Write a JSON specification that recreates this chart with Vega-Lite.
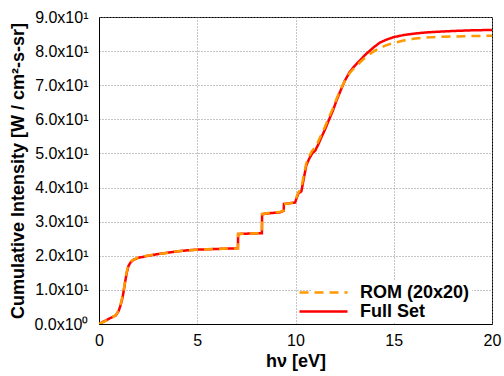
{
  "$schema": "https://vega.github.io/schema/vega-lite/v6.json",
  "width": 393,
  "height": 307,
  "autosize": {"type": "none"},
  "padding": {"left": 99, "top": 17, "right": 12, "bottom": 52},
  "background": "white",
  "config": {
    "view": {"stroke": "black", "strokeWidth": 1},
    "font": "Liberation Sans",
    "axis": {
      "domainColor": "black",
      "grid": true,
      "gridColor": "#8c8c8c",
      "gridDash": [1, 2],
      "gridWidth": 1,
      "ticks": false,
      "labelFont": "Liberation Sans",
      "labelFontSize": 16,
      "labelColor": "black",
      "titleFont": "Liberation Sans",
      "titleFontSize": 18,
      "titleFontWeight": "bold",
      "titleColor": "black"
    }
  },
  "data": {
    "values": [
      {"s": "Full Set", "x": 0, "y": 0},
      {"s": "Full Set", "x": 0.3, "y": 0.9},
      {"s": "Full Set", "x": 0.6, "y": 1.8},
      {"s": "Full Set", "x": 0.85, "y": 2.5},
      {"s": "Full Set", "x": 1.0, "y": 3.8},
      {"s": "Full Set", "x": 1.1, "y": 5.5},
      {"s": "Full Set", "x": 1.2, "y": 7.8},
      {"s": "Full Set", "x": 1.28, "y": 10.5},
      {"s": "Full Set", "x": 1.35, "y": 13.0},
      {"s": "Full Set", "x": 1.42, "y": 15.2},
      {"s": "Full Set", "x": 1.5, "y": 17.0},
      {"s": "Full Set", "x": 1.6, "y": 18.0},
      {"s": "Full Set", "x": 1.75, "y": 18.8},
      {"s": "Full Set", "x": 2.0, "y": 19.4},
      {"s": "Full Set", "x": 2.5, "y": 20.0},
      {"s": "Full Set", "x": 3.0, "y": 20.5},
      {"s": "Full Set", "x": 3.5, "y": 20.9},
      {"s": "Full Set", "x": 4.0, "y": 21.3},
      {"s": "Full Set", "x": 4.5, "y": 21.6},
      {"s": "Full Set", "x": 5.0, "y": 21.8},
      {"s": "Full Set", "x": 5.5, "y": 21.9},
      {"s": "Full Set", "x": 6.0, "y": 22.0},
      {"s": "Full Set", "x": 6.5, "y": 22.1},
      {"s": "Full Set", "x": 7.07, "y": 22.2},
      {"s": "Full Set", "x": 7.08, "y": 26.4},
      {"s": "Full Set", "x": 7.6, "y": 26.5},
      {"s": "Full Set", "x": 8.29, "y": 26.6},
      {"s": "Full Set", "x": 8.3, "y": 32.2},
      {"s": "Full Set", "x": 8.7, "y": 32.5},
      {"s": "Full Set", "x": 9.2, "y": 32.7},
      {"s": "Full Set", "x": 9.4, "y": 33.2},
      {"s": "Full Set", "x": 9.41, "y": 35.2},
      {"s": "Full Set", "x": 9.7, "y": 35.4},
      {"s": "Full Set", "x": 9.98, "y": 35.6},
      {"s": "Full Set", "x": 10.05, "y": 36.8},
      {"s": "Full Set", "x": 10.15, "y": 38.3},
      {"s": "Full Set", "x": 10.3, "y": 38.9},
      {"s": "Full Set", "x": 10.4, "y": 42.0},
      {"s": "Full Set", "x": 10.55, "y": 46.5},
      {"s": "Full Set", "x": 10.7, "y": 48.5},
      {"s": "Full Set", "x": 10.85, "y": 50.0},
      {"s": "Full Set", "x": 11.0, "y": 50.8},
      {"s": "Full Set", "x": 11.15, "y": 52.5},
      {"s": "Full Set", "x": 11.3, "y": 54.5},
      {"s": "Full Set", "x": 11.5, "y": 57.0},
      {"s": "Full Set", "x": 11.7, "y": 59.8},
      {"s": "Full Set", "x": 11.9, "y": 62.5},
      {"s": "Full Set", "x": 12.1, "y": 65.7},
      {"s": "Full Set", "x": 12.3, "y": 68.5},
      {"s": "Full Set", "x": 12.5, "y": 71.2},
      {"s": "Full Set", "x": 12.75, "y": 73.8},
      {"s": "Full Set", "x": 13.0, "y": 75.6},
      {"s": "Full Set", "x": 13.3, "y": 77.4},
      {"s": "Full Set", "x": 13.6, "y": 79.2},
      {"s": "Full Set", "x": 14.0, "y": 81.2},
      {"s": "Full Set", "x": 14.3, "y": 82.5},
      {"s": "Full Set", "x": 14.6, "y": 83.3},
      {"s": "Full Set", "x": 15.0, "y": 84.1},
      {"s": "Full Set", "x": 15.5, "y": 84.7},
      {"s": "Full Set", "x": 16.0, "y": 85.1},
      {"s": "Full Set", "x": 16.5, "y": 85.4},
      {"s": "Full Set", "x": 17.0, "y": 85.6},
      {"s": "Full Set", "x": 18.0, "y": 85.9},
      {"s": "Full Set", "x": 19.0, "y": 86.1},
      {"s": "Full Set", "x": 20.0, "y": 86.2},
      {"s": "ROM (20x20)", "x": 0, "y": 0},
      {"s": "ROM (20x20)", "x": 0.3, "y": 0.8},
      {"s": "ROM (20x20)", "x": 0.6, "y": 1.6},
      {"s": "ROM (20x20)", "x": 0.85, "y": 2.6},
      {"s": "ROM (20x20)", "x": 1.0, "y": 4.0},
      {"s": "ROM (20x20)", "x": 1.1, "y": 5.8},
      {"s": "ROM (20x20)", "x": 1.2, "y": 8.2},
      {"s": "ROM (20x20)", "x": 1.28, "y": 10.8},
      {"s": "ROM (20x20)", "x": 1.35, "y": 13.4},
      {"s": "ROM (20x20)", "x": 1.42, "y": 15.6},
      {"s": "ROM (20x20)", "x": 1.5, "y": 17.3},
      {"s": "ROM (20x20)", "x": 1.6, "y": 18.2},
      {"s": "ROM (20x20)", "x": 1.75, "y": 18.9},
      {"s": "ROM (20x20)", "x": 2.0, "y": 19.5},
      {"s": "ROM (20x20)", "x": 2.5, "y": 20.1},
      {"s": "ROM (20x20)", "x": 3.0, "y": 20.5},
      {"s": "ROM (20x20)", "x": 3.5, "y": 20.9},
      {"s": "ROM (20x20)", "x": 4.0, "y": 21.3},
      {"s": "ROM (20x20)", "x": 4.5, "y": 21.6},
      {"s": "ROM (20x20)", "x": 5.0, "y": 21.8},
      {"s": "ROM (20x20)", "x": 5.5, "y": 21.9},
      {"s": "ROM (20x20)", "x": 6.0, "y": 22.0},
      {"s": "ROM (20x20)", "x": 6.5, "y": 22.1},
      {"s": "ROM (20x20)", "x": 7.07, "y": 22.2},
      {"s": "ROM (20x20)", "x": 7.08, "y": 26.4},
      {"s": "ROM (20x20)", "x": 7.6, "y": 26.5},
      {"s": "ROM (20x20)", "x": 8.29, "y": 26.6},
      {"s": "ROM (20x20)", "x": 8.3, "y": 32.2},
      {"s": "ROM (20x20)", "x": 8.7, "y": 32.6},
      {"s": "ROM (20x20)", "x": 9.2, "y": 32.8},
      {"s": "ROM (20x20)", "x": 9.4, "y": 33.3},
      {"s": "ROM (20x20)", "x": 9.41, "y": 35.2},
      {"s": "ROM (20x20)", "x": 9.7, "y": 35.4},
      {"s": "ROM (20x20)", "x": 9.98, "y": 35.7},
      {"s": "ROM (20x20)", "x": 10.05, "y": 37.2},
      {"s": "ROM (20x20)", "x": 10.15, "y": 38.6},
      {"s": "ROM (20x20)", "x": 10.3, "y": 40.0},
      {"s": "ROM (20x20)", "x": 10.4, "y": 43.0},
      {"s": "ROM (20x20)", "x": 10.55, "y": 47.2},
      {"s": "ROM (20x20)", "x": 10.7, "y": 49.3},
      {"s": "ROM (20x20)", "x": 10.85, "y": 50.8},
      {"s": "ROM (20x20)", "x": 11.0, "y": 51.8},
      {"s": "ROM (20x20)", "x": 11.15, "y": 53.4},
      {"s": "ROM (20x20)", "x": 11.3, "y": 55.3},
      {"s": "ROM (20x20)", "x": 11.5, "y": 57.8},
      {"s": "ROM (20x20)", "x": 11.7, "y": 60.6},
      {"s": "ROM (20x20)", "x": 11.9, "y": 63.2},
      {"s": "ROM (20x20)", "x": 12.1, "y": 66.2},
      {"s": "ROM (20x20)", "x": 12.3, "y": 68.8},
      {"s": "ROM (20x20)", "x": 12.5, "y": 71.2},
      {"s": "ROM (20x20)", "x": 12.75, "y": 73.5},
      {"s": "ROM (20x20)", "x": 13.0, "y": 75.1},
      {"s": "ROM (20x20)", "x": 13.3, "y": 76.8},
      {"s": "ROM (20x20)", "x": 13.6, "y": 78.4},
      {"s": "ROM (20x20)", "x": 14.0, "y": 80.0},
      {"s": "ROM (20x20)", "x": 14.3, "y": 80.9},
      {"s": "ROM (20x20)", "x": 14.6, "y": 81.7},
      {"s": "ROM (20x20)", "x": 15.0, "y": 82.4},
      {"s": "ROM (20x20)", "x": 15.5, "y": 83.1},
      {"s": "ROM (20x20)", "x": 16.0, "y": 83.6},
      {"s": "ROM (20x20)", "x": 16.5, "y": 83.9},
      {"s": "ROM (20x20)", "x": 17.0, "y": 84.1},
      {"s": "ROM (20x20)", "x": 18.0, "y": 84.3},
      {"s": "ROM (20x20)", "x": 19.0, "y": 84.4},
      {"s": "ROM (20x20)", "x": 20.0, "y": 84.5}
    ]
  },
  "mark": {"type": "line", "strokeWidth": 2.5, "clip": true},
  "encoding": {
    "x": {
      "field": "x",
      "type": "quantitative",
      "scale": {"domain": [0, 20], "nice": false},
      "axis": {
        "values": [0, 5, 10, 15, 20],
        "title": "hν [eV]",
        "labelFlush": false,
        "labelPadding": 8,
        "titlePadding": 4
      }
    },
    "y": {
      "field": "y",
      "type": "quantitative",
      "scale": {"domain": [0, 90], "nice": false},
      "axis": {
        "values": [0, 10, 20, 30, 40, 50, 60, 70, 80, 90],
        "labelExpr": "datum.value == 0 ? '0.0x10⁰' : format(datum.value / 10, '.1f') + 'x10¹'",
        "labelFlush": false,
        "title": "Cumulative Intensity [W / cm²-s-sr]",
        "labelPadding": 11,
        "titlePadding": 6
      }
    },
    "color": {
      "field": "s",
      "type": "nominal",
      "scale": {"domain": ["ROM (20x20)", "Full Set"], "range": ["#ff9900", "#ff0000"]},
      "legend": {
        "title": null,
        "orient": "none",
        "legendX": 213,
        "legendY": 264,
        "padding": 2,
        "fillColor": "white",
        "symbolType": "M-3,0H3",
        "symbolSize": 256,
        "symbolStrokeWidth": 2.5,
        "rowPadding": 0,
        "labelOffset": 27,
        "labelFont": "Liberation Sans",
        "labelFontSize": 18,
        "labelFontWeight": "bold",
        "labelColor": "black",
        "labelLimit": 300
      }
    },
    "strokeDash": {
      "field": "s",
      "type": "nominal",
      "scale": {"domain": ["ROM (20x20)", "Full Set"], "range": [[9, 6], [1, 0]]},
      "legend": null
    },
    "order": {"field": "x", "type": "quantitative"}
  }
}
